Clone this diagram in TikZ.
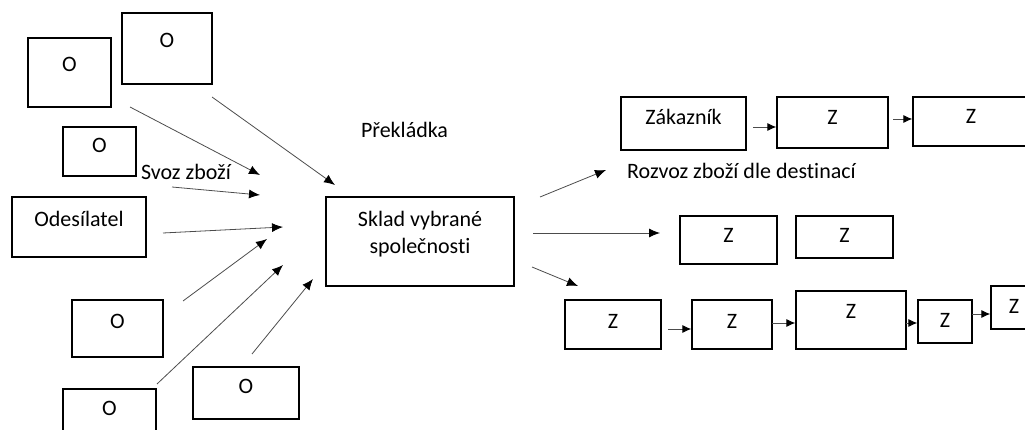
\documentclass[tikz,border=0pt]{standalone}
\usepackage{fontspec}
\setmainfont{Carlito}[Ligatures=NoCommon]
\usetikzlibrary{arrows.meta}

\tikzset{
  box/.style={draw, line width=1.3pt, inner sep=0pt, font=\fontsize{22}{27}\selectfont},
  lbl/.style={anchor=base, inner sep=0pt, font=\fontsize{22}{27}\selectfont},
  arr/.style={-{Latex[length=11pt,width=9pt,black]}, line width=0.8pt, draw=black!70},
  sarr/.style={-{Latex[length=9pt,width=8pt,black]}, line width=0.8pt, draw=black!70}
}

\begin{document}
\begin{tikzpicture}[x=1pt,y=-1pt]
    \clip (0,0) rectangle (1025,430);

    % odesilatele
    \node[box, minimum width=83, text height=34pt, text depth=35pt] (o1) at (69.5,72.5) {O};
    \node[box, minimum width=90, text height=35pt, text depth=36pt] (o2) at (167,48.5) {O};
    \node[box, minimum width=73, text height=26pt, text depth=23pt] (o3) at (99.5,151.5) {O};
    \node[box, minimum width=134, text height=30pt, text depth=30pt] (send) at (79,227) {Odesílatel};
    \node[box, minimum width=91, text height=28pt, text depth=29pt] (o4) at (117.5,328.5) {O};
    \node[box, minimum width=93, text height=26pt, text depth=30pt] (o5) at (109.5,417) {O};
    \node[box, minimum width=106, text height=26pt, text depth=26pt] (o6) at (246,393) {O};

    % sklad
    \node[box, minimum width=188, text height=57pt, text depth=32pt, align=center] (sklad) at (420,241.5) {Sklad vybrané\\společnosti};

    % zakaznici
    \node[box, minimum width=125, text height=28pt, text depth=25pt] (zak) at (683.5,123.5) {Zákazník};
    \node[box, minimum width=111, text height=28pt, text depth=23pt] (z1) at (832.5,122.5) {Z};
    \node[box, minimum width=116, text height=27pt, text depth=22pt] (z2) at (971,121.5) {Z};
    \node[box, minimum width=97, text height=27pt, text depth=21pt] (za) at (728.5,240) {Z};
    \node[box, minimum width=97, text height=27pt, text depth=15pt] (zb) at (844.5,237) {Z};
    \node[box, minimum width=96, text height=28pt, text depth=21pt] (zc1) at (613,324.5) {Z};
    \node[box, minimum width=80, text height=28pt, text depth=21pt] (zc2) at (732,324.5) {Z};
    \node[box, minimum width=110, text height=28pt, text depth=30pt] (zc3) at (851,320) {Z};
    \node[box, minimum width=54, text height=27pt, text depth=16pt] (zc4) at (945,321.5) {Z};
    \node[box, minimum width=46, text height=27pt, text depth=16pt] (zc5) at (1014,307.5) {Z};

    % popisky
    \node[lbl] (prek) at (404.5,138) {Překládka};
    \node[lbl] (svoz) at (186,180) {Svoz zboží};
    \node[lbl] (rozvoz) at (741.5,179) {Rozvoz zboží dle destinací};

    % svoz
    \coordinate (s1) at (130,107);  \coordinate (e1) at (260,175);
    \coordinate (s2) at (212,97);   \coordinate (e2) at (335,185);
    \coordinate (s3) at (172,187);  \coordinate (e3) at (260,195);
    \coordinate (s4) at (163,233);  \coordinate (e4) at (283,227);
    \coordinate (s5) at (183,301);  \coordinate (e5) at (267,239);
    \coordinate (s6) at (157,384);  \coordinate (e6) at (283,265);
    \coordinate (s7) at (252,354);  \coordinate (e7) at (313,279);
    \draw[arr] (s1) -- (e1);
    \draw[arr] (s2) -- (e2);
    \draw[arr] (s3) -- (e3);
    \draw[arr] (s4) -- (e4);
    \draw[arr] (s5) -- (e5);
    \draw[arr] (s6) -- (e6);
    \draw[arr] (s7) -- (e7);

    % rozvoz
    \coordinate (r1) at (540,197);  \coordinate (f1) at (606,170);
    \coordinate (r2) at (533,233);  \coordinate (f2) at (660,233);
    \coordinate (r3) at (532,267);  \coordinate (f3) at (578,286);
    \draw[arr] (r1) -- (f1);
    \draw[arr] (r2) -- (f2);
    \draw[arr] (r3) -- (f3);

    % retezce
    \coordinate (c1) at (753,127);
    \coordinate (c2) at (893,119);
    \coordinate (c3) at (668,329);
    \coordinate (c4) at (772,323);
    \coordinate (c5) at (906,323);
    \coordinate (c6) at (972,314);
    \draw[sarr] (c1) -- (c1 -| z1.west);
    \draw[sarr] (c2) -- (c2 -| z2.west);
    \draw[sarr] (c3) -- (c3 -| zc2.west);
    \draw[sarr] (c4) -- (c4 -| zc3.west);
    \draw[sarr] (c5) -- (c5 -| zc4.west);
    \draw[sarr] (c6) -- (c6 -| zc5.west);
\end{tikzpicture}
\end{document}
